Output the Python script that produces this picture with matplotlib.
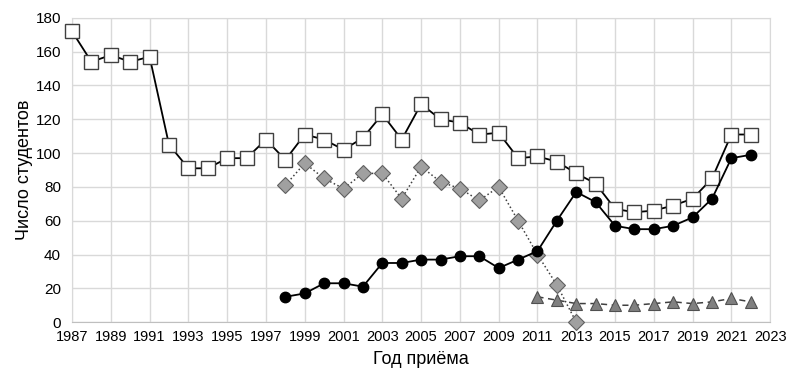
import matplotlib.pyplot as plt
from matplotlib import font_manager

# admissions by year, four groups
years_all = list(range(1987, 2023))
total = [172, 154, 158, 154, 157, 105, 91, 91, 97, 97, 108, 96, 111, 108, 102,
         109, 123, 108, 129, 120, 118, 111, 112, 97, 98, 95, 88, 82, 67, 65, 66,
         69, 73, 85, 111, 111]

years_diam = list(range(1998, 2014))
diamonds = [81, 94, 85, 79, 88, 88, 73, 92, 83, 79, 72, 80, 60, 40, 22, 0]

years_circ = list(range(1998, 2023))
circles = [15, 17, 23, 23, 21, 35, 35, 37, 37, 39, 39, 32, 37, 42, 60, 77, 71,
           57, 55, 55, 57, 62, 73, 97, 99]

years_tri = list(range(2011, 2023))
triangles = [15, 13, 11, 11, 10, 10, 11, 12, 11, 12, 14, 12]

x_ticks = list(range(1987, 2024, 2))
y_ticks = list(range(0, 181, 20))

names = {f.name for f in font_manager.fontManager.ttflist}
tick_font = "Liberation Sans Narrow" if "Liberation Sans Narrow" in names else "Liberation Sans"
plt.rcParams['font.family'] = ['Liberation Sans', 'DejaVu Sans']

fig = plt.figure(figsize=(7.88, 3.72), dpi=100)
ax = fig.add_axes([0.0914, 0.134, 0.886, 0.818])

ax.plot(years_all, total, color='black', lw=1.3, marker='s', ms=9.5,
        mfc='white', mec='#404040', mew=1.0, zorder=4, clip_on=False)
ax.plot(years_diam, diamonds, color='#404040', lw=1.1, ls=':', marker='D',
        ms=8, mfc='#a0a0a0', mec='#606060', mew=0.8, zorder=3, clip_on=False)
ax.plot(years_circ, circles, color='black', lw=1.3, marker='o', ms=7.5,
        mfc='black', mec='black', zorder=5, clip_on=False)
ax.plot(years_tri, triangles, color='#404040', lw=1.1, ls=(0, (4, 3)),
        marker='^', ms=8, mfc='#808080', mec='#505050', mew=0.8, zorder=3,
        clip_on=False)

ax.set_xlim(1987, 2023)
ax.set_ylim(0, 180)
ax.set_xticks(x_ticks)
ax.set_yticks(y_ticks)
ax.tick_params(length=0)
ax.tick_params(axis='x', labelsize=10.5, pad=6)
ax.tick_params(axis='y', labelsize=11, pad=8)
for lab in ax.get_xticklabels():
    lab.set_fontfamily(tick_font)

ax.grid(True, color='#d9d9d9', lw=1.0)
ax.set_axisbelow(True)
for side in ['top', 'right', 'left']:
    ax.spines[side].set_color('#d9d9d9')
ax.spines['bottom'].set_color('#bfbfbf')

ax.set_xlabel('Год приёма', fontsize=13, labelpad=5)
ax.set_ylabel('Число студентов', fontsize=13, labelpad=2)

fig.savefig('out.png', dpi=100)
